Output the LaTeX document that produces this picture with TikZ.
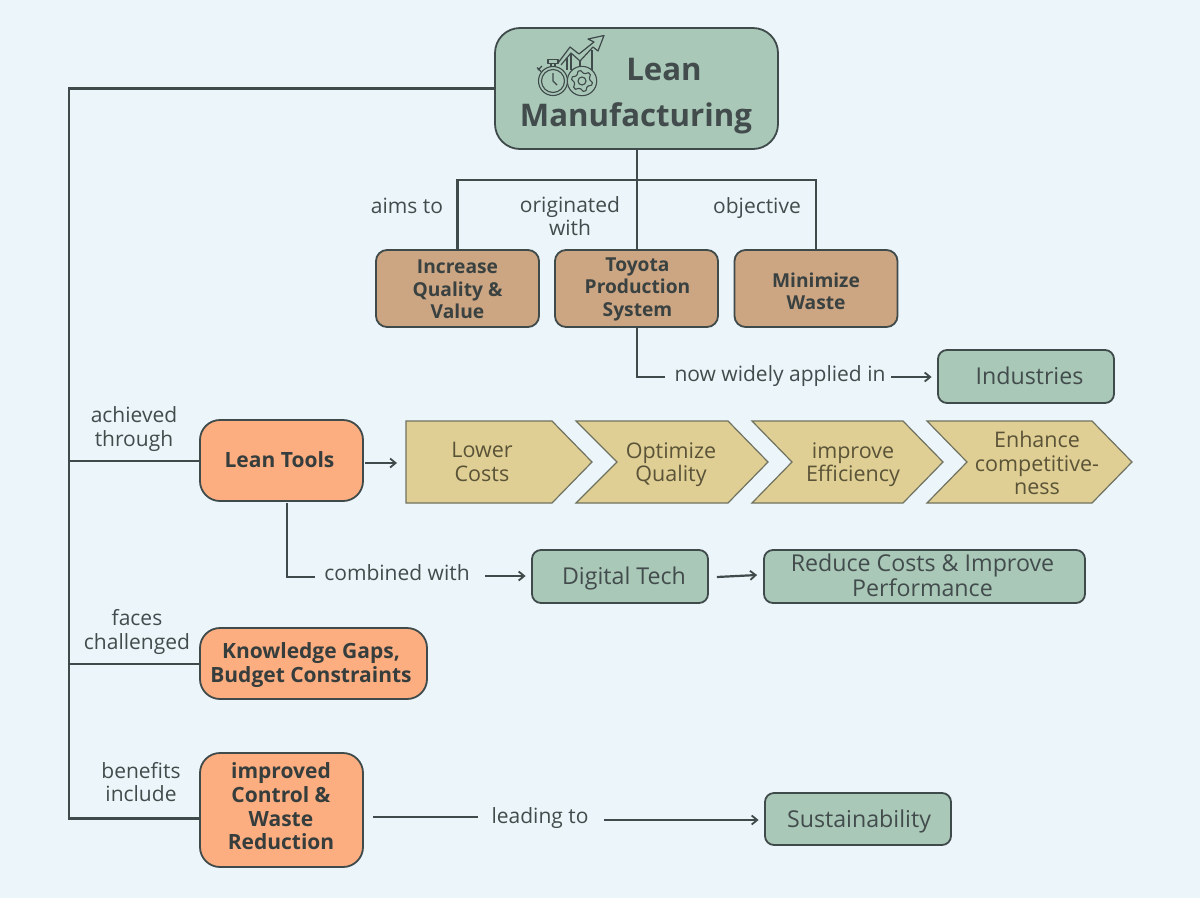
\documentclass[tikz,border=0pt]{standalone}
\usepackage{fontspec}
\setmainfont{Open Sans}
\usetikzlibrary{arrows.meta,calc}
\definecolor{bgc}{HTML}{ECF5F9}
\definecolor{ink}{HTML}{3F4A4A}
\definecolor{txt}{HTML}{434C4C}
\definecolor{grn}{HTML}{A9C8B8}
\definecolor{brn}{HTML}{CCA582}
\definecolor{org}{HTML}{FCAE80}
\definecolor{yel}{HTML}{DFCF94}
\definecolor{yeltxt}{HTML}{5A5338}
\tikzset{
 x=1pt,y=-1pt,
 conn/.style={draw=ink,line width=2.2pt},
 tipped/.style={conn,-{Straight Barb[length=5.5pt,width=9pt,line width=1.8pt]}},
 arr/.style={tipped,shorten >=5.5pt},
 boxb/.style={draw=ink,line width=1.8pt,rounded corners=#1,inner sep=0pt},
 green/.style={boxb=9pt,fill=grn},
 brown/.style={boxb=11pt,fill=brn,minimum width=163pt,minimum height=77pt},
 orange/.style={boxb=20pt,fill=org},
 greent/.style={align=center,text=txt,inner sep=0pt,font=\fontsize{23.2}{24.5}\selectfont},
 brownt/.style={align=center,text=txt!85!black,inner sep=0pt,font=\bfseries\fontsize{19.2}{22.5}\selectfont},
 oranget/.style={align=center,text=txt!80!black,inner sep=0pt,font=\bfseries\fontsize{21}{23.6}\selectfont},
 lab/.style={align=center,text=txt,inner sep=0pt,font=\fontsize{21}{23.5}\selectfont},
 chev/.style={fill=yel,draw=ink!70!yel,line width=1.2pt},
 chevt/.style={align=center,text=yeltxt,inner sep=0pt,font=\fontsize{21.5}{23.6}\selectfont},
 ico/.style={draw=ink,line width=1.1pt,line join=round},
}
\begin{document}
\begin{tikzpicture}
\useasboundingbox (0,0) rectangle (1200,898);
\fill[bgc] (0,0) rectangle (1200,898);

% boxes
\node[boxb=25pt,fill=grn,minimum width=283pt,minimum height=121pt] (top) at (636.5,88.5) {};
\node[brown] (b1) at (457.5,288.5) {};
\node[brown] (b2) at (636.5,288.5) {};
\node[brown] (b3) at (816,288.5) {};
\node[green,minimum width=176pt,minimum height=53pt] (ind) at (1026,376.5) {};
\node[orange,minimum width=163pt,minimum height=81pt] (tools) at (281.5,460.5) {};
\node[green,minimum width=176pt,minimum height=53pt] (dig) at (620,576.5) {};
\node[green,minimum width=321pt,minimum height=53pt] (red) at (924.5,576.5) {};
\node[orange,minimum width=227pt,minimum height=71pt] (gaps) at (313.5,663.5) {};
\node[orange,minimum width=163pt,minimum height=114pt] (ctrl) at (281.5,810) {};
\node[green,minimum width=186pt,minimum height=52pt] (sus) at (858,819) {};

% box texts
\node[text=txt,font=\bfseries\fontsize{31.2}{36}\selectfont,inner sep=0pt] (t1) at (664,69.5) {Lean};
\node[text=txt,font=\bfseries\fontsize{31.2}{36}\selectfont,inner sep=0pt] (t2) at (636,118.5) {Manufacturing};
\node[brownt] (b1t) at (457.5,289.5) {Increase\\Quality \&\\Value};
\node[brownt] (b2t) at (637.5,289) {Toyota\\Production\\System};
\node[brownt] (b3t) at (816,291.5) {Minimize\\Waste};
\node[greent] (indt) at (1029.5,376) {Industries};
\node[oranget] (toolst) at (279.5,460) {Lean Tools};
\node[greent] (digt) at (624,578) {Digital Tech};
\node[greent] (redt) at (922.5,575.5) {Reduce Costs \& Improve\\Performance};
\node[oranget] (gapst) at (311,665) {Knowledge Gaps,\\Budget Constraints};
\node[oranget] (ctrlt) at (281,806.5) {improved\\Control \&\\Waste\\Reduction};
\node[greent] (sust) at (859,821) {Sustainability};

% chevrons
\draw[chev] (406,421) -- (552,421) -- (592,462) -- (552,503) -- (406,503) -- cycle;
\draw[chev] (576,421) -- (728,421) -- (768,462) -- (728,503) -- (576,503) -- (617,462) -- cycle;
\draw[chev] (752,421) -- (903,421) -- (943,462) -- (903,503) -- (752,503) -- (792,462) -- cycle;
\draw[chev] (927,421) -- (1092,421) -- (1132,462) -- (1092,503) -- (927,503) -- (967,462) -- cycle;
\node[chevt] (c1) at (482,462) {Lower\\Costs};
\node[chevt] (c2) at (671,464.5) {Optimize\\Quality};
\node[chevt] (c3) at (853,464.5) {improve\\Efficiency};
\node[chevt] (c4) at (1037,463) {Enhance\\competitive-\\ness};

% labels
\node[lab] (l1) at (407,206) {aims to};
\node[lab] (l2) at (570,216) {originated\\with};
\node[lab] (l3) at (757,208) {objective};
\node[lab] (l4) at (780,376.5) {now widely applied in};
\node[lab] (l5) at (134,429) {achieved\\through};
\node[lab] (l6) at (397,573) {combined with};
\node[lab] (l7) at (137,632) {faces\\challenged};
\node[lab] (l8) at (141,782) {benefits\\include};
\node[lab] (l9) at (540,818) {leading to};

% connector junctions
\coordinate (busL) at (457.5,180);
\coordinate (busR) at (816,180);
\coordinate (busC) at (637,180);
\coordinate (trT) at (69,88.5);
\coordinate (tr1) at (69,461);
\coordinate (tr2) at (69,664);
\coordinate (tr3) at (69,818.5);
\coordinate (a1) at (637,377);
\coordinate (a2) at (665,377);
\coordinate (a3) at (891,377);
\coordinate (a4) at (287,503);
\coordinate (a5) at (287,577);
\coordinate (a6) at (315,577);
\coordinate (a7) at (485,576);
\coordinate (a8) at (373,817);
\coordinate (a9) at (478,817);
\coordinate (a10) at (604,820);
\coordinate (chevL) at (397,463);
\coordinate (toolsR) at (365,463);

% connectors
\draw[conn] (top.south-|busC) -- (b2.north-|busC);
\draw[conn] (b1.north) -- (busL) -- (busR) -- (b3.north);
\draw[conn] (top.west) -- (trT) -- (tr3) -- (ctrl.west|-tr3);
\draw[conn] (tr1) -- (tools.west|-tr1);
\draw[conn] (tr2) -- (gaps.west|-tr2);
\draw[conn] (b2.south-|a1) -- (a1) -- (a2);
\draw[arr] (a3) -- (ind.west|-a3);
\draw[tipped] (toolsR) -- (chevL);
\draw[conn] (a4) -- (a5) -- (a6);
\draw[arr] (a7) -- (dig.west|-a7);
\draw[tipped] ($(dig.east)+(8,0.5)$) -- ($(red.west)+(-6,-1.5)$);
\draw[conn] (a8) -- (a9);
\draw[arr] (a10) -- (sus.west|-a10);

% icon
\begin{scope}
\draw[ico] (571,53) -- (571,70) (567,58) -- (567,70) (592,50) -- (592,72) (580,61) -- (580,70);
\draw[ico,line width=1.2pt,fill=grn] (558,63) -- (570,47) -- (579,54) -- (594,42) -- (588,39) -- (604,35.5) -- (598,51) -- (593,47) -- (580,61) -- (571,53) -- (561,65);
\draw[ico,fill=grn] (548,59.5) rectangle (558,63.5);
\draw[ico,fill=grn] (551,63.5) rectangle (555,67);
\draw[ico] (538,70) -- (542,66) (537,67.5) -- (541,71.5);
\draw[ico,fill=grn] (553,81) circle (14.5pt);
\draw[ico] (553,81) circle (11.5pt);
\draw[ico,line width=1.4pt] (553,73) -- (553,81) -- (557,85);
\draw[ico,fill=grn] (582,81) circle (14.7pt);
\draw[ico] (582,81) circle (4pt);
\draw[ico] plot[samples at={0,15,...,345},variable=\t] ({582+(mod(round(\t/15),4)<2 ? 10.5 : 8)*cos(\t+8)},{81+(mod(round(\t/15),4)<2 ? 10.5 : 8)*sin(\t+8)}) -- cycle;
\end{scope}
\end{tikzpicture}
\end{document}
